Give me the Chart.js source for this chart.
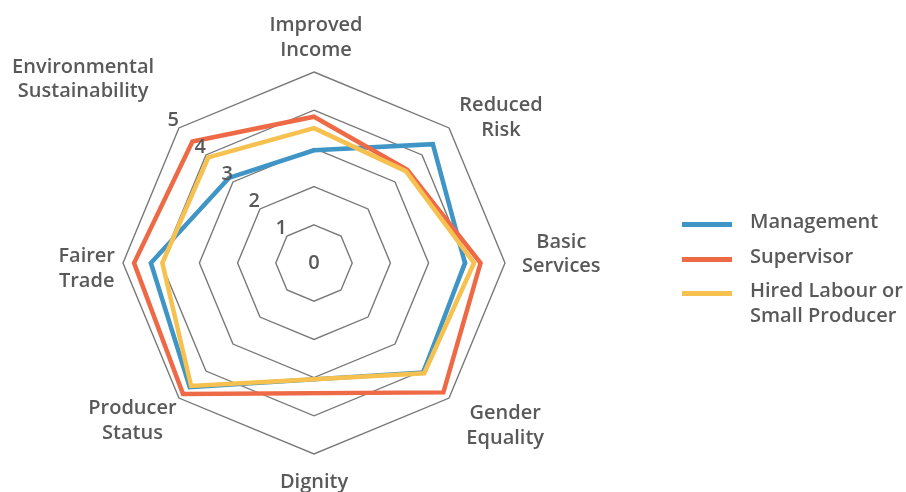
<!DOCTYPE html>
<html><head><meta charset="utf-8">
<script src="https://cdn.jsdelivr.net/npm/chart.js@4/dist/chart.umd.min.js"></script>
<style>
html,body{margin:0;padding:0;background:#fff;}
#wrap{position:relative;width:906px;height:492px;overflow:hidden;font-family:'Open Sans',sans-serif;font-weight:600;color:#595959;}
canvas{position:absolute;left:0;top:0;}
.lg-line{position:absolute;left:682px;width:50px;height:5px;}
.lg-text{position:absolute;left:750px;font-size:20px;line-height:25px;white-space:nowrap;}
</style></head>
<body><div id="wrap"><canvas id="c" width="906" height="492"></canvas><div id="legend"></div></div>
<script>
// ---- data ----
const categories = [['Improved','Income'],['Reduced','Risk'],['Basic','Services'],['Gender','Equality'],['Dignity'],['Producer','Status'],['Fairer','Trade'],['Environmental','Sustainability']];
const seriesNames = ['Management','Supervisor','Hired Labour or Small Producer'];
const legendLines = [['Management'],['Supervisor'],['Hired Labour or','Small Producer']];
const management = [2.95, 4.4, 3.95, 4.05, null, 4.6, 4.27, 3.15];
const supervisor = [3.83, 3.45, 4.36, 4.79, null, 4.85, 4.71, 4.5];
const hiredLabour = [3.53, 3.4, 4.19, 4.08, null, 4.55, 3.97, 3.91];
const tickValues = [0, 1, 2, 3, 4, 5];

// ---- styles / layout ----
const colors = ['#3E95C6', '#EE6A47', '#F7C14F'];
const textColor = '#595959';
const font = "600 20px 'Open Sans'";
const tickAxisIndex = 7;
const labelPad = 11;
const labelNudge = [[2,1.5],[2.5,-2.5],[6,-8.5],[9.5,20],[0,5],[5.5,15],[3,6],[-17,-41]];

const pointLabelPlugin = {
  id: 'pointLabelsCustom',
  afterDraw(chart) {
    const s = chart.scales.r, ctx = chart.ctx;
    ctx.save();
    ctx.font = font; ctx.fillStyle = textColor; ctx.textBaseline = 'middle'; ctx.textAlign = 'center';
    const lh = 24.5;
    categories.forEach((lines, i) => {
      const p = s.getPointPosition(i, s.drawingArea + labelPad);
      const deg = Math.round((((s.getIndexAngle(i) * 180 / Math.PI) % 360) + 360) % 360);
      const w = Math.max(...lines.map(t => ctx.measureText(t).width));
      const h = lines.length * lh;
      let left, top;
      if (deg === 0) { left = p.x - w / 2; top = p.y - h; }
      else if (deg === 180) { left = p.x - w / 2; top = p.y; }
      else if (deg < 180) { left = p.x; top = p.y - h / 2; }
      else { left = p.x - w; top = p.y - h / 2; }
      left += labelNudge[i][0]; top += labelNudge[i][1];
      lines.forEach((t, k) => ctx.fillText(t, left + w / 2, top + lh * (k + 0.5)));
    });
    ctx.restore();
  }
};

const tickPlugin = {
  id: 'tickLabelsCustom',
  afterDatasetsDraw(chart) {
    const s = chart.scales.r, ctx = chart.ctx;
    ctx.save();
    ctx.font = font; ctx.fillStyle = textColor;
    tickValues.forEach(v => {
      const d = s.getDistanceFromCenterForValue(v);
      if (d === 0) {
        ctx.textAlign = 'center'; ctx.textBaseline = 'middle';
        ctx.fillText(String(v), s.xCenter, s.yCenter);
        return;
      }
      const p = s.getPointPosition(tickAxisIndex, d);
      ctx.textAlign = 'right'; ctx.textBaseline = 'alphabetic';
      ctx.fillText(String(v), p.x, p.y - 1.5);
    });
    ctx.restore();
  }
};

const seriesData = [management, supervisor, hiredLabour];
const chart = new Chart(document.getElementById('c'), {
  type: 'radar',
  data: {
    labels: categories,
    datasets: seriesData.map((d, i) => ({
      label: seriesNames[i],
      data: d,
      borderColor: colors[i],
      backgroundColor: 'rgba(0,0,0,0)',
      borderWidth: 4.5,
      fill: false,
      spanGaps: true,
      pointRadius: 0,
      pointHoverRadius: 0,
      order: seriesData.length - 1 - i
    }))
  },
  options: {
    responsive: false,
    animation: false,
    devicePixelRatio: 1,
    layout: { padding: { left: 123, top: 72, right: 401, bottom: 38 } },
    plugins: { legend: { display: false }, tooltip: { enabled: false } },
    elements: { line: { tension: 0, borderJoinStyle: 'miter' } },
    scales: {
      r: {
        min: 0, max: 5,
        ticks: { display: false, stepSize: 1 },
        pointLabels: { display: false },
        angleLines: { display: false },
        grid: { color: '#787878', lineWidth: 1.4 }
      }
    }
  },
  plugins: [pointLabelPlugin, tickPlugin]
});

// legend (HTML)
const legend = document.getElementById('legend');
legendLines.forEach((lines, i) => {
  const top = 208 + i * 34.5;
  const ln = document.createElement('div');
  ln.className = 'lg-line';
  ln.style.top = (top + 14) + 'px';
  ln.style.background = colors[i];
  legend.appendChild(ln);
  const tx = document.createElement('div');
  tx.className = 'lg-text';
  tx.style.top = top + 'px';
  tx.innerHTML = lines.join('<br>');
  legend.appendChild(tx);
});
if (document.fonts && document.fonts.ready) document.fonts.ready.then(() => chart.update());
</script>
</body></html>
